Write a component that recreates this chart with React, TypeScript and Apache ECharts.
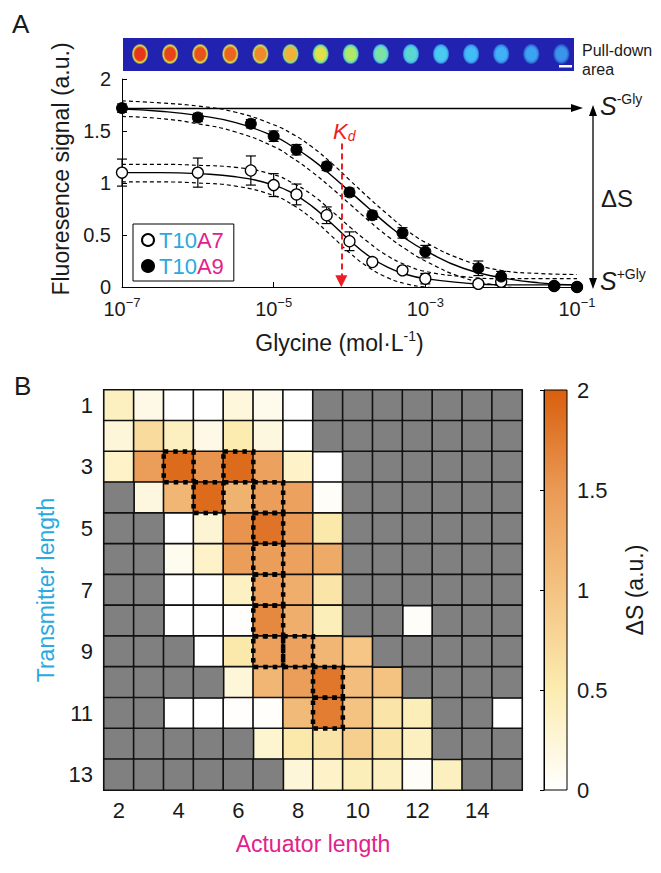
import React, { useEffect, useRef } from 'react';
import * as echarts from 'echarts';

const F = '"Liberation Sans", Arial, Helvetica, sans-serif';
const CYAN = '#29a9e0';
const MAGENTA = '#e2218a';
const TXT = '#1a1a1a';

// ---------- Panel A data ----------
const concentrations = [1e-7, 1e-6, 5e-6, 1e-5, 2e-5, 5e-5, 1e-4, 2e-4, 5e-4, 1e-3, 5e-3, 1e-2, 5e-2, 1e-1];
const t10a7Signal = [1.10, 1.10, 1.12, 0.98, 0.89, 0.69, 0.44, 0.24, 0.16, 0.08, 0.03, 0.05, 0.01, 0.00];
const t10a7Error = [0.13, 0.14, 0.14, 0.11, 0.10, 0.08, 0.09, 0.03, 0.03, 0.05, 0.02, 0.02, 0.01, 0.01];
const t10a9Signal = [1.72, 1.63, 1.57, 1.45, 1.32, 1.16, 0.91, 0.69, 0.52, 0.34, 0.18, 0.10, 0.01, 0.00];
const t10a9Error = [0.04, 0.04, 0.04, 0.05, 0.05, 0.04, 0.04, 0.04, 0.05, 0.06, 0.07, 0.05, 0.02, 0.02];

// fitted curves (log10 concentration)
const fitLog10Conc = [-7, -6.5, -6, -5.5, -5, -4.75, -4.5, -4.25, -4, -3.75, -3.5, -3.25, -3, -2.5, -2, -1.5, -1];
const t10a7Fit = [1.10, 1.10, 1.09, 1.06, 0.98, 0.90, 0.78, 0.62, 0.45, 0.30, 0.19, 0.12, 0.08, 0.04, 0.02, 0.02, 0.02];
const t10a7Upper = [1.18, 1.18, 1.17, 1.15, 1.08, 1.00, 0.89, 0.74, 0.58, 0.43, 0.30, 0.21, 0.15, 0.10, 0.08, 0.08, 0.08];
const t10a7Lower = [1.01, 1.01, 1.00, 0.97, 0.88, 0.79, 0.66, 0.50, 0.33, 0.19, 0.09, 0.03, 0.00, -0.02, -0.03, -0.03, -0.03];
const t10a9Fit = [1.71, 1.69, 1.65, 1.58, 1.45, 1.35, 1.23, 1.08, 0.92, 0.76, 0.60, 0.46, 0.35, 0.18, 0.09, 0.04, 0.02];
const t10a9Upper = [1.79, 1.77, 1.74, 1.68, 1.56, 1.47, 1.35, 1.20, 1.03, 0.86, 0.70, 0.55, 0.43, 0.26, 0.16, 0.13, 0.12];
const t10a9Lower = [1.64, 1.62, 1.57, 1.49, 1.35, 1.24, 1.11, 0.96, 0.80, 0.64, 0.49, 0.36, 0.25, 0.09, 0.01, -0.03, -0.05];

const sMinusGly = 1.72;
const kdConcentration = 7.8e-5;
const kdArrowTop = 1.38;

const xTickExponents = [-7, -5, -3, -1];
const yTicksA = [0, 0.5, 1, 1.5, 2];

// pull-down area image strip colours
const spotCore = ['#e5351b', '#e7441b', '#e9521d', '#eb6420', '#ef8a2a', '#f1b23a', '#dfe04a', '#b0e86a', '#7ce2a4', '#5ad8cf', '#4acbf0', '#42bdf8', '#3fb1f8', '#3ca3f2', '#3a95ea'];
const spotRim = ['#d8e048', '#d8e048', '#d8e048', '#d0e050', '#c0e060', '#90e080', '#70e0a0', '#60d8c0', '#50c8e8', '#48b8f0', '#40a8f0', '#3c98ec', '#3888e4', '#3478dc', '#3068d4'];
const STRIP_BG = '#2222b0';

// ---------- Panel B data ----------
const actuatorLengths = ['2', '3', '4', '5', '6', '7', '8', '9', '10', '11', '12', '13', '14', '15'];
const transmitterLengths = ['1', '2', '3', '4', '5', '6', '7', '8', '9', '10', '11', '12', '13'];
const N = null;
const deltaS: (number | null)[][] = [
  // A2   A3    A4    A5    A6    A7    A8    A9    A10   A11   A12   A13   A14   A15
  [0.40, 0.15, 0.00, 0.00, 0.22, 0.12, 0.00, N, N, N, N, N, N, N], // T1
  [0.25, 0.70, 0.40, 0.15, 0.50, 0.20, 0.00, N, N, N, N, N, N, N], // T2
  [0.35, 1.45, 1.90, 1.55, 1.90, 1.40, 0.35, 0.00, N, N, N, N, N, N], // T3
  [N, 0.20, 1.15, 1.90, 1.20, 1.45, 1.40, 0.05, N, N, N, N, N, N], // T4
  [N, N, 0.00, 0.28, 1.55, 1.82, 1.50, 0.55, N, N, N, N, N, N], // T5
  [N, N, 0.10, 0.35, 1.45, 1.45, 1.40, 1.30, N, N, N, N, N, N], // T6
  [N, N, 0.00, 0.00, 0.38, 1.42, 1.25, 0.60, N, N, N, N, N, N], // T7
  [N, N, 0.00, 0.00, 0.02, 1.65, 1.25, 0.45, N, N, 0.04, N, N, N], // T8
  [N, N, N, 0.00, 0.55, 1.42, 1.40, 1.15, 0.95, N, N, N, N, N], // T9
  [N, N, N, N, 0.25, 1.15, 1.45, 1.80, 1.05, 1.00, N, N, N, N], // T10
  [N, N, 0.00, 0.00, 0.02, 0.03, 1.10, 1.75, 1.00, 0.60, 0.45, N, N, 0.00], // T11
  [N, N, N, N, N, 0.30, 0.55, 0.60, 0.85, 0.60, 0.40, N, N, N], // T12
  [N, N, N, N, N, N, 0.25, 0.35, 0.45, 0.40, 0.05, 0.40, N, N], // T13
];
// [actuator length, transmitter length] of the dotted-outlined cells
const boxedCells = [[4, 3], [6, 3], [5, 4], [7, 4], [7, 5], [7, 6], [7, 7], [7, 8], [7, 9], [8, 9], [9, 10], [9, 11]];
const colormap = ['#ffffff', '#fcecb0', '#f4c281', '#ea9a55', '#d95f0e'];
const colorbarTicks = [0, 0.5, 1, 1.5, 2];
const MISSING_GRAY = '#808080';

function buildOption() {
  const toPts = (ys: number[]) => fitLog10Conc.map((l, i) => [l, ys[i]]);
  const lg = (c: number) => Math.log10(c);

  const heatCells: number[][] = [];
  const grayCells: number[][] = [];
  deltaS.forEach((row, ri) =>
    row.forEach((v, ci) => {
      if (v === null) grayCells.push([ci, ri, 0]);
      else heatCells.push([ci, ri, v]);
    })
  );

  const errSeries = (sig: number[], err: number[], name: string) => ({
    type: 'custom',
    name,
    xAxisIndex: 0,
    yAxisIndex: 0,
    z: 3,
    silent: true,
    data: concentrations.map((c, i) => [lg(c), sig[i], err[i]]),
    renderItem: (_p: any, api: any) => {
      const x = api.value(0), y = api.value(1), e = api.value(2);
      const t = api.coord([x, y + e]);
      const b = api.coord([x, y - e]);
      const hw = 5;
      const st = { stroke: '#000', lineWidth: 1.2 };
      return {
        type: 'group',
        children: [
          { type: 'line', shape: { x1: t[0], y1: t[1], x2: b[0], y2: b[1] }, style: st },
          { type: 'line', shape: { x1: t[0] - hw, y1: t[1], x2: t[0] + hw, y2: t[1] }, style: st },
          { type: 'line', shape: { x1: b[0] - hw, y1: b[1], x2: b[0] + hw, y2: b[1] }, style: st },
        ],
      };
    },
  });

  const lineSeries = (ys: number[], dashed: boolean, extra: any = {}) => ({
    type: 'line',
    xAxisIndex: 0,
    yAxisIndex: 0,
    data: toPts(ys),
    smooth: true,
    showSymbol: false,
    symbol: 'none',
    silent: true,
    z: 2,
    lineStyle: { color: '#000', width: dashed ? 1.2 : 1.4, type: dashed ? [4, 3] : 'solid' },
    ...extra,
  });

  const spots = spotCore.map((c, i) => ({
    type: 'ellipse',
    shape: { cx: 140 + i * 30.1, cy: 54, rx: 8.5, ry: 10.5 },
    style: {
      fill: new echarts.graphic.RadialGradient(0.5, 0.5, 0.5, [
        { offset: 0, color: c },
        { offset: 0.6, color: c },
        { offset: 0.82, color: spotRim[i] },
        { offset: 1, color: STRIP_BG },
      ]),
    },
  }));

  const txt = (x: number, y: number, text: string, style: any) => ({
    type: 'text',
    x,
    y,
    style: { text, fontFamily: F, fill: TXT, verticalAlign: 'middle', align: 'left', ...style },
  });

  const sRich = {
    s: { fontSize: 25, fontStyle: 'italic', fontFamily: F, fill: TXT, lineHeight: 28 },
    p: { fontSize: 14, fontFamily: F, fill: TXT, verticalAlign: 'top', lineHeight: 14 },
  };

  return {
    animation: false,
    textStyle: { fontFamily: F },
    legend: {
      data: ['T10A7', 'T10A9'],
      orient: 'vertical',
      left: 133,
      top: 224,
      padding: [5, 10, 4, 8],
      itemGap: 4,
      itemWidth: 12,
      itemHeight: 12,
      borderColor: '#000',
      borderWidth: 1,
      backgroundColor: '#fff',
      selectedMode: false,
      formatter: (n: string) => `{c|T10}{m|${n.slice(3)}}`,
      textStyle: {
        fontSize: 22,
        rich: { c: { color: CYAN, fontSize: 22, fontFamily: F }, m: { color: MAGENTA, fontSize: 22, fontFamily: F } },
      },
    },
    grid: [
      { left: 122, right: 84, top: 79, bottom: 586 },
      { left: 104, right: 139, top: 390, bottom: 83 },
      { left: 544, width: 23, top: 390, height: 400 },
    ],
    xAxis: [
      {
        type: 'value',
        gridIndex: 0,
        min: xTickExponents[0],
        max: xTickExponents[xTickExponents.length - 1],
        interval: 2,
        axisLine: { lineStyle: { color: '#000', width: 1 } },
        axisTick: { inside: true, length: 5, lineStyle: { color: '#000' } },
        splitLine: { show: false },
        axisLabel: {
          margin: 9,
          formatter: (v: number) => `{b|10}{s|${v < 0 ? '−' : ''}${Math.abs(v)}}`,
          rich: {
            b: { fontSize: 20, color: TXT, lineHeight: 26, fontFamily: F },
            s: { fontSize: 13, color: TXT, verticalAlign: 'top', lineHeight: 13, fontFamily: F },
          },
        },
        name: '{n|Glycine (mol·L}{s|-1}{n|)}',
        nameLocation: 'middle',
        nameGap: 42,
        nameTextStyle: {
          padding: [0, 20, 0, 0],
          rich: {
            n: { fontSize: 23, color: TXT, lineHeight: 27, fontFamily: F },
            s: { fontSize: 14, color: TXT, verticalAlign: 'top', lineHeight: 14, fontFamily: F },
          },
        },
      },
      {
        type: 'category',
        gridIndex: 1,
        data: actuatorLengths,
        axisLine: { show: false },
        axisTick: { show: false },
        axisLabel: { interval: 1, fontSize: 22, color: TXT, margin: 9 },
        name: 'Actuator length',
        nameLocation: 'middle',
        nameGap: 42,
        nameTextStyle: { fontSize: 23, color: MAGENTA },
      },
      { type: 'value', gridIndex: 2, show: false, min: 0, max: 1 },
    ],
    yAxis: [
      {
        type: 'value',
        gridIndex: 0,
        min: yTicksA[0],
        max: yTicksA[yTicksA.length - 1],
        interval: 0.5,
        axisLine: { show: true, lineStyle: { color: '#000', width: 1 } },
        axisTick: { show: true, inside: true, length: 5, lineStyle: { color: '#000' } },
        splitLine: { show: false },
        axisLabel: { fontSize: 20, color: TXT, margin: 11 },
        name: 'Fluoresence signal (a.u.)',
        nameLocation: 'middle',
        nameRotate: 90,
        nameGap: 48,
        nameTextStyle: { fontSize: 23, color: TXT, padding: [0, 0, 0, 28] },
      },
      {
        type: 'category',
        gridIndex: 1,
        data: transmitterLengths,
        inverse: true,
        axisLine: { show: false },
        axisTick: { show: false },
        axisLabel: { interval: 1, fontSize: 22, color: TXT, margin: 11 },
        name: 'Transmitter length',
        nameLocation: 'middle',
        nameRotate: 90,
        nameGap: 44,
        nameTextStyle: { fontSize: 23, color: CYAN },
      },
      {
        type: 'value',
        gridIndex: 2,
        position: 'right',
        min: colorbarTicks[0],
        max: colorbarTicks[colorbarTicks.length - 1],
        interval: 0.5,
        axisLine: { show: true, lineStyle: { color: '#000', width: 1 } },
        axisTick: { show: true, inside: true, length: 4, lineStyle: { color: '#000' } },
        splitLine: { show: false },
        axisLabel: { fontSize: 22, color: TXT, margin: 10 },
        name: 'ΔS (a.u.)',
        nameLocation: 'middle',
        nameRotate: 90,
        nameGap: 56,
        nameTextStyle: { fontSize: 23, color: TXT },
        z: 10,
      },
    ],
    visualMap: [
      { type: 'continuous', min: 0, max: 2, seriesIndex: 10, show: false, inRange: { color: colormap } },
      { type: 'continuous', min: 0, max: 1, seriesIndex: 11, show: false, inRange: { color: [MISSING_GRAY, MISSING_GRAY] } },
    ],
    series: [
      lineSeries(t10a7Fit, false),
      lineSeries(t10a7Upper, true),
      lineSeries(t10a7Lower, true),
      lineSeries(t10a9Fit, false, {
        markLine: {
          silent: true,
          animation: false,
          label: { show: false },
          symbol: ['none', 'triangle'],
          data: [
            [
              { coord: [fitLog10Conc[0], sMinusGly], symbol: 'none', lineStyle: { color: '#000', width: 1.3, type: 'solid' } },
              { coord: [fitLog10Conc[fitLog10Conc.length - 1], sMinusGly], symbol: 'triangle', symbolSize: [8, 12] },
            ],
            [
              { coord: [lg(kdConcentration), kdArrowTop], symbol: 'none', lineStyle: { color: '#ee1c24', width: 2, type: [6, 4] } },
              { coord: [lg(kdConcentration), 0.055], symbol: 'triangle', symbolSize: [12, 12], itemStyle: { color: '#ee1c24' } },
            ],
          ],
        },
      }),
      lineSeries(t10a9Upper, true),
      lineSeries(t10a9Lower, true),
      errSeries(t10a7Signal, t10a7Error, 'errA7'),
      errSeries(t10a9Signal, t10a9Error, 'errA9'),
      {
        type: 'scatter',
        name: 'T10A7',
        xAxisIndex: 0,
        yAxisIndex: 0,
        z: 4,
        symbol: 'circle',
        symbolSize: 11,
        itemStyle: { color: '#fff', borderColor: '#000', borderWidth: 1.3, opacity: 1 },
        data: concentrations.map((c, i) => [lg(c), t10a7Signal[i]]),
      },
      {
        type: 'scatter',
        name: 'T10A9',
        xAxisIndex: 0,
        yAxisIndex: 0,
        z: 5,
        symbol: 'circle',
        symbolSize: 11,
        itemStyle: { color: '#000', borderColor: '#000', borderWidth: 1, opacity: 1 },
        data: concentrations.map((c, i) => [lg(c), t10a9Signal[i]]),
      },
      {
        type: 'heatmap',
        xAxisIndex: 1,
        yAxisIndex: 1,
        data: heatCells,
        itemStyle: { borderColor: '#111', borderWidth: 1.6 },
        emphasis: { disabled: true },
      },
      {
        type: 'heatmap',
        xAxisIndex: 1,
        yAxisIndex: 1,
        data: grayCells,
        itemStyle: { borderColor: '#111', borderWidth: 1.6 },
        emphasis: { disabled: true },
      },
      {
        type: 'custom',
        xAxisIndex: 1,
        yAxisIndex: 1,
        z: 6,
        silent: true,
        data: boxedCells.map(([a, t]) => [String(a), String(t)]),
        renderItem: (_p: any, api: any) => {
          const c = api.coord([api.value(0), api.value(1)]);
          const s = api.size([1, 1]);
          return {
            type: 'rect',
            shape: { x: c[0] - s[0] / 2, y: c[1] - s[1] / 2, width: s[0], height: s[1] },
            style: { fill: 'rgba(0,0,0,0)', stroke: '#000', lineWidth: 4.5, lineDash: [4.5, 5] },
          };
        },
      },
    ],
    graphic: [
      txt(12, 24, 'A', { fontSize: 26 }),
      txt(14, 386, 'B', { fontSize: 26 }),
      { type: 'rect', shape: { x: 123, y: 38, width: 451, height: 33 }, style: { fill: STRIP_BG } },
      ...spots,
      { type: 'rect', shape: { x: 559, y: 65, width: 13, height: 2.5 }, style: { fill: '#fff' } },
      txt(582, 60, 'Pull-down\narea', { fontSize: 16, lineHeight: 19 }),
      {
        type: 'text', x: 600, y: 106,
        style: { text: '{s|S}{p|-Gly}', rich: sRich, verticalAlign: 'middle', align: 'left' },
      },
      txt(601, 198, 'ΔS', { fontSize: 24 }),
      {
        type: 'text', x: 600, y: 281,
        style: { text: '{s|S}{p|+Gly}', rich: sRich, verticalAlign: 'middle', align: 'left' },
      },
      { type: 'line', shape: { x1: 593, y1: 114, x2: 593, y2: 281 }, style: { stroke: '#000', lineWidth: 1.3 } },
      { type: 'polygon', shape: { points: [[593, 105], [589, 116], [597, 116]] }, style: { fill: '#000' } },
      { type: 'polygon', shape: { points: [[593, 289], [589, 278], [597, 278]] }, style: { fill: '#000' } },
      {
        type: 'text', x: 333, y: 131,
        style: {
          text: '{k|K}{d|d}',
          verticalAlign: 'middle',
          align: 'left',
          rich: {
            k: { fontSize: 22, fontStyle: 'italic', fill: '#ee1c24', fontFamily: F, lineHeight: 24 },
            d: { fontSize: 14, fontStyle: 'italic', fill: '#ee1c24', fontFamily: F, verticalAlign: 'bottom', lineHeight: 14 },
          },
        },
      },
      {
        type: 'rect',
        z: -1,
        shape: { x: 544, y: 390, width: 23, height: 400 },
        style: {
          fill: new echarts.graphic.LinearGradient(0, 1, 0, 0, colormap.map((c, i) => ({ offset: i / (colormap.length - 1), color: c }))),
          stroke: '#000',
          lineWidth: 1,
        },
      },
    ],
  };
}

export default function App() {
  const ref = useRef<HTMLDivElement>(null);
  useEffect(() => {
    if (!ref.current) return;
    const chart = echarts.init(ref.current, null, { renderer: 'svg' });
    chart.setOption(buildOption() as any);
    return () => chart.dispose();
  }, []);
  return <div ref={ref} style={{ position: 'absolute', left: 0, top: 0, width: 661, height: 873, background: '#fff' }} />;
}
